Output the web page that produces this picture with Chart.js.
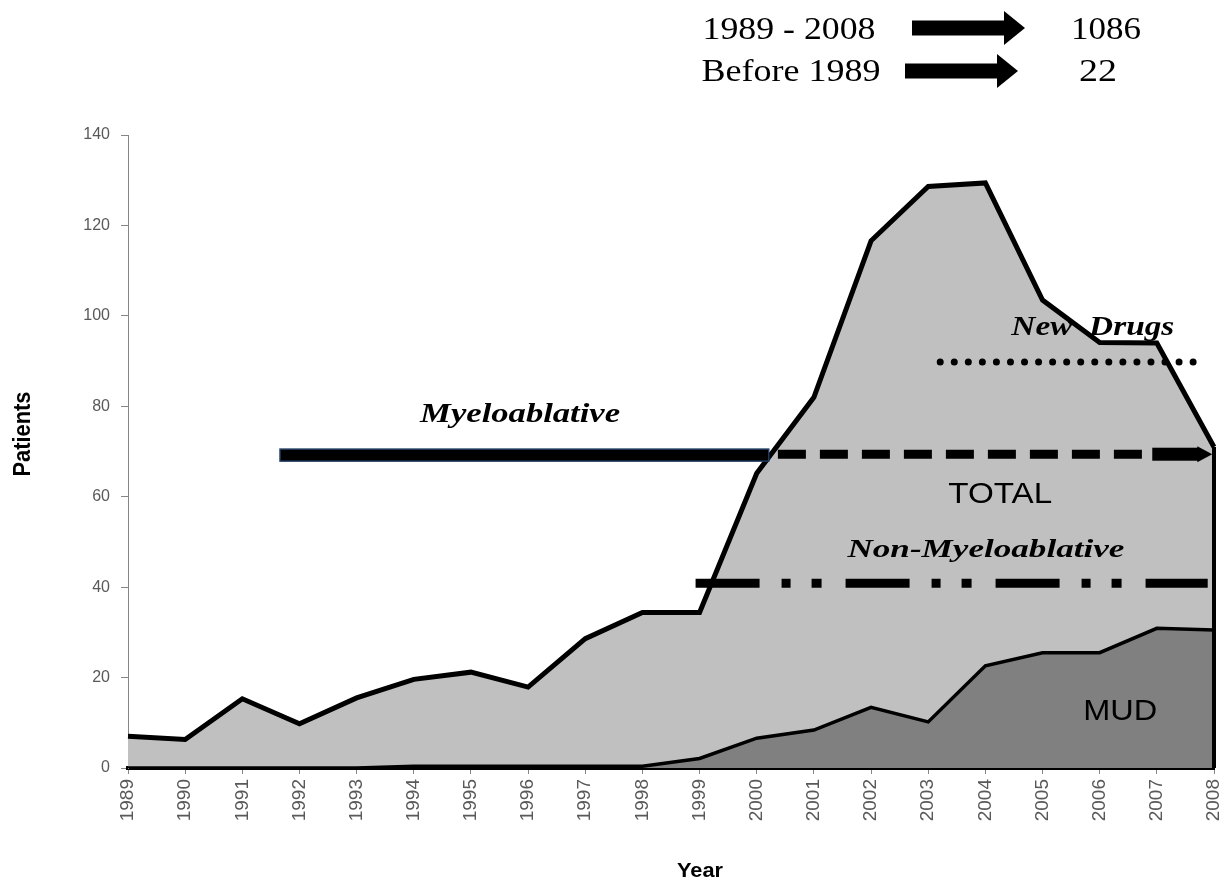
<!DOCTYPE html>
<html>
<head>
<meta charset="utf-8">
<script src="https://cdn.jsdelivr.net/npm/chart.js@4"></script>
<style>
  html, body { margin: 0; padding: 0; background: #fff; }
  #wrap { width: 1225px; height: 880px; }
</style>
</head>
<body>
<div id="wrap"><canvas id="myChart" width="1225" height="880"></canvas></div>
<script>
// data
const years = ['1989','1990','1991','1992','1993','1994','1995','1996','1997','1998',
               '1999','2000','2001','2002','2003','2004','2005','2006','2007','2008'];
const totalPatients = [7, 6.3, 15.3, 9.8, 15.5, 19.6, 21.2, 17.9, 28.6, 34.4,
                       34.4, 65.2, 82, 116.6, 128.6, 129.4, 103.5, 94.1, 94, 71];
const mudPatients = [0, 0, 0, 0, 0, 0.4, 0.4, 0.4, 0.4, 0.4,
                     2.1, 6.6, 8.4, 13.4, 10.2, 22.6, 25.5, 25.5, 30.9, 30.5];
const yTicks = [0, 20, 40, 60, 80, 100, 120, 140];

// annotations, in axis units (x = index of year, y = patients)
const notes = {
  myelo:    { from: 2.66, to: 11.21, y: 69.2 },
  total:    { from: 11.37, to: 17.74, arrowFrom: 17.92, arrowTo: 18.97, y: 69.4 },
  nonMyelo: { from: 9.93, to: 18.89, y: 40.85 },
  newDrugs: { from: 14.21, to: 18.63, y: 89.8 }
};

// draw text squeezed/stretched to a given width (the figure is not to scale)
const fitText = (ctx, text, x, y, font, width, rot) => {
  ctx.save();
  ctx.font = font;
  const s = width / ctx.measureText(text).width;
  ctx.translate(x, y);
  if (rot) ctx.rotate(rot);
  ctx.scale(s, 1);
  ctx.textAlign = 'center';
  ctx.textBaseline = 'alphabetic';
  ctx.fillStyle = '#000';
  ctx.fillText(text, 0, 0);
  ctx.restore();
};

const arrow = (ctx, x1, x2, headX, y, shaft, head) => {
  ctx.save();
  ctx.fillStyle = '#000';
  ctx.fillRect(x1, y - shaft / 2, headX - x1 + 1, shaft);
  ctx.beginPath();
  ctx.moveTo(headX, y - head);
  ctx.lineTo(x2, y);
  ctx.lineTo(headX, y + head);
  ctx.closePath();
  ctx.fill();
  ctx.restore();
};

const notesPlugin = {
  id: 'notes',
  afterDatasetsDraw(chart) {
    const ctx = chart.ctx;
    const xs = chart.scales.x, ys = chart.scales.y;
    const X = v => xs.getPixelForValue(v);
    const Y = v => ys.getPixelForValue(v);

    // right edge of the areas
    ctx.save();
    ctx.strokeStyle = '#000';
    ctx.lineWidth = 4;
    ctx.beginPath();
    ctx.moveTo(X(years.length - 1), Y(totalPatients[totalPatients.length - 1]));
    ctx.lineTo(X(years.length - 1), Y(0));
    ctx.stroke();
    ctx.restore();

    // Myeloablative bar
    let n = notes.myelo;
    ctx.save();
    ctx.fillStyle = '#000';
    ctx.strokeStyle = '#1f3a60';
    ctx.lineWidth = 1.5;
    ctx.fillRect(X(n.from), Y(n.y) - 6, X(n.to) - X(n.from), 12);
    ctx.strokeRect(X(n.from), Y(n.y) - 6, X(n.to) - X(n.from), 12);
    ctx.restore();

    // TOTAL dashed with arrow
    n = notes.total;
    ctx.save();
    ctx.strokeStyle = '#000';
    ctx.lineWidth = 9;
    ctx.setLineDash([28, 14]);
    ctx.beginPath();
    ctx.moveTo(X(n.from), Y(n.y));
    ctx.lineTo(X(n.to), Y(n.y));
    ctx.stroke();
    ctx.restore();
    arrow(ctx, X(n.arrowFrom), X(n.arrowTo), X(n.arrowTo) - 15, Y(n.y), 13, 8);

    // Non-Myeloablative dash-dot-dot
    n = notes.nonMyelo;
    ctx.save();
    ctx.strokeStyle = '#000';
    ctx.lineWidth = 9;
    ctx.setLineDash([64, 22, 9, 21, 10, 24]);
    ctx.beginPath();
    ctx.moveTo(X(n.from), Y(n.y));
    ctx.lineTo(X(n.to), Y(n.y));
    ctx.stroke();
    ctx.restore();

    // New Drugs dotted
    n = notes.newDrugs;
    ctx.save();
    ctx.strokeStyle = '#000';
    ctx.lineWidth = 7;
    ctx.lineCap = 'round';
    ctx.setLineDash([0, 14.05]);
    ctx.beginPath();
    ctx.moveTo(X(n.from), Y(n.y));
    ctx.lineTo(X(n.to) + 1, Y(n.y));
    ctx.stroke();
    ctx.restore();

    // labels
    const serif = '"Liberation Serif", "Times New Roman", serif';
    const sans = '"Liberation Sans", Arial, sans-serif';
    fitText(ctx, 'Myeloablative', X(6.86), Y(76.5), 'bold italic 28px ' + serif, 200);
    fitText(ctx, 'Non-Myeloablative', X(15.01), Y(46.7), 'bold italic 26px ' + serif, 277);
    fitText(ctx, 'New  Drugs', X(16.88), Y(95.8), 'bold italic 28px ' + serif, 163);
    fitText(ctx, 'TOTAL', X(15.26), Y(58.6), '30px ' + sans, 104);
    fitText(ctx, 'MUD', X(17.36), Y(10.6), '30px ' + sans, 74);
  },
  afterDraw(chart) {
    const ctx = chart.ctx;
    const serif = '"Liberation Serif", "Times New Roman", serif';
    const sans = '"Liberation Sans", Arial, sans-serif';
    // header
    fitText(ctx, '1989 - 2008', 789, 39, '32px ' + serif, 173);
    arrow(ctx, 912, 1025, 1004, 28, 15, 17);
    fitText(ctx, '1086', 1106, 39, '32px ' + serif, 70);
    fitText(ctx, 'Before 1989', 791, 81, '32px ' + serif, 179);
    arrow(ctx, 905, 1018, 997, 71, 15, 17);
    fitText(ctx, '22', 1098, 81, '32px ' + serif, 38);
    // axis titles
    fitText(ctx, 'Patients', 30, 434, 'bold 24px ' + sans, 85, -Math.PI / 2);
    fitText(ctx, 'Year', 700, 877, 'bold 21px ' + sans, 46);
  }
};

const ctx = document.getElementById('myChart');

new Chart(ctx, {
  type: 'line',
  data: {
    labels: years,
    datasets: [
      {
        label: 'MUD',
        data: mudPatients,
        fill: 'origin',
        backgroundColor: '#808080',
        borderColor: '#000',
        borderWidth: 3.5,
        pointRadius: 0,
        tension: 0,
        order: 1
      },
      {
        label: 'TOTAL',
        data: totalPatients,
        fill: 'origin',
        backgroundColor: '#c0c0c0',
        borderColor: '#000',
        borderWidth: 5,
        pointRadius: 0,
        tension: 0,
        order: 2
      }
    ]
  },
  options: {
    responsive: false,
    animation: false,
    events: [],
    layout: {
      padding: { left: 0, right: 11, top: 135, bottom: 0 }
    },
    plugins: {
      legend: { display: false },
      tooltip: { enabled: false }
    },
    scales: {
      x: {
        offset: false,
        afterFit: s => { s.height = 112; s.paddingLeft = 0; s.paddingRight = 0; },
        grid: { drawOnChartArea: false, drawTicks: true, tickLength: 6, color: '#868686' },
        border: { color: '#000', width: 4 },
        ticks: {
          autoSkip: false,
          minRotation: 90,
          maxRotation: 90,
          padding: 5,
          color: '#595959',
          font: { family: '"Liberation Sans", Arial, sans-serif', size: 19 }
        }
      },
      y: {
        min: 0,
        max: 140,
        afterFit: s => { s.width = 128; },
        afterBuildTicks: s => { s.ticks = yTicks.map(v => ({ value: v })); },
        grid: { drawOnChartArea: false, drawTicks: true, tickLength: 7, color: '#868686' },
        border: { color: '#868686', width: 1 },
        ticks: {
          padding: 11,
          color: '#595959',
          font: { family: '"Liberation Sans", Arial, sans-serif', size: 16 }
        }
      }
    }
  },
  plugins: [notesPlugin]
});
</script>
</body>
</html>
